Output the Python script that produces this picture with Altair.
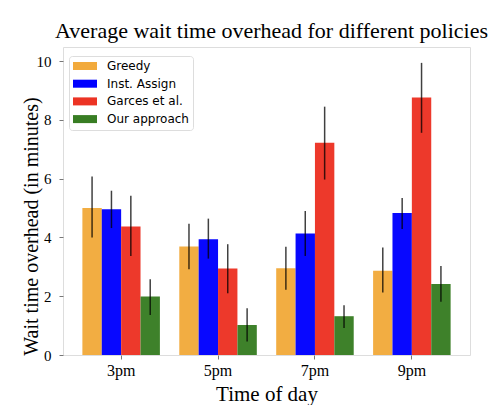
import altair as alt
import pandas as pd

times = ["3pm", "5pm", "7pm", "9pm"]
policies = ["Greedy", "Inst. Assign", "Garces et al.", "Our approach"]
colors = ["#F2AA3C", "#0000FF", "#EC3324", "#387D23"]

greedy_mean = [5.00, 3.69, 2.95, 2.87]
greedy_lo = [4.00, 2.92, 2.22, 2.13]
greedy_hi = [6.07, 4.47, 3.68, 3.66]

inst_mean = [4.96, 3.94, 4.13, 4.83]
inst_lo = [4.32, 3.28, 3.37, 4.29]
inst_hi = [5.59, 4.64, 4.90, 5.34]

garces_mean = [4.37, 2.94, 7.22, 8.76]
garces_lo = [3.37, 2.10, 5.97, 7.56]
garces_hi = [5.42, 3.77, 8.45, 9.94]

our_mean = [1.99, 1.02, 1.32, 2.42]
our_lo = [1.36, 0.46, 0.92, 1.81]
our_hi = [2.58, 1.59, 1.69, 3.03]

series = [
    (greedy_mean, greedy_lo, greedy_hi),
    (inst_mean, inst_lo, inst_hi),
    (garces_mean, garces_lo, garces_hi),
    (our_mean, our_lo, our_hi),
]

rows = []
for p, (m, lo, hi) in zip(policies, series):
    for t, mv, lv, hv in zip(times, m, lo, hi):
        rows.append({"time": t, "policy": p, "mean": mv, "lo": lv, "hi": hv})
df = pd.DataFrame(rows)

serif = "Liberation Serif"

x_enc = alt.X("time:N", sort=times,
              scale=alt.Scale(paddingInner=0.2, paddingOuter=0.2),
              axis=alt.Axis(title="Time of day", labelAngle=0, labelFont=serif,
                            labelFontSize=16, labelColor="black", labelPadding=3,
                            titleFont=serif, titleFontSize=21, titleFontWeight="normal",
                            titleColor="black", titleY=45, titleBaseline="alphabetic",
                            tickSize=4, tickColor="#777", domain=False))
xoff = alt.XOffset("policy:N", sort=policies, scale=alt.Scale(paddingInner=0, paddingOuter=0))

y_scale = alt.Scale(domain=[0, 10.48], nice=False)

bars = alt.Chart(df).mark_bar(opacity=0.97).encode(
    x=x_enc,
    xOffset=xoff,
    y=alt.Y("mean:Q", scale=y_scale,
            axis=alt.Axis(title="Wait time overhead (in minutes)", values=[0, 2, 4, 6, 8, 10],
                          grid=False, labelFont=serif, labelFontSize=15, labelColor="black",
                          labelPadding=8, tickSize=4, tickColor="#777", domain=False,
                          titleFont=serif, titleFontSize=20, titleFontWeight="normal",
                          titleColor="black", titleX=-32, titleY=179, titleBaseline="middle",
                          titleAngle=270)),
    color=alt.Color("policy:N", sort=policies,
                    scale=alt.Scale(domain=policies, range=colors),
                    legend=alt.Legend(title=None, orient="none", legendX=6, legendY=9,
                                      labelFont="DejaVu Sans", labelFontSize=12,
                                      labelColor="black", labelOffset=22,
                                      symbolType="M-1,-0.667H3V0.667H-1Z",
                                      symbolSize=144, symbolOpacity=1, symbolStrokeWidth=0,
                                      rowPadding=5.7, padding=4, strokeColor="#dddddd",
                                      fillColor="white", cornerRadius=3)),
)

errs = alt.Chart(df).mark_rule(color="black", strokeWidth=1.5, opacity=0.75).encode(
    x=alt.X("time:N", sort=times),
    xOffset=alt.XOffset("policy:N", sort=policies),
    y=alt.Y("lo:Q", scale=y_scale),
    y2="hi:Q",
)

chart = alt.layer(bars, errs).properties(
    width=407, height=308,
    autosize=alt.AutoSizeParams(type="none"),
    padding={"left": 55, "top": 39, "right": 22, "bottom": 50},
    title=alt.TitleParams("Average wait time overhead for different policies",
                          font=serif, fontSize=22, fontWeight="normal", color="black",
                          anchor="middle", baseline="alphabetic", offset=-13, dx=5),
).configure_view(stroke="#888888", strokeWidth=1.2).configure(background="white")

chart.save("out.html", embed_options={"renderer": "svg", "actions": False})
